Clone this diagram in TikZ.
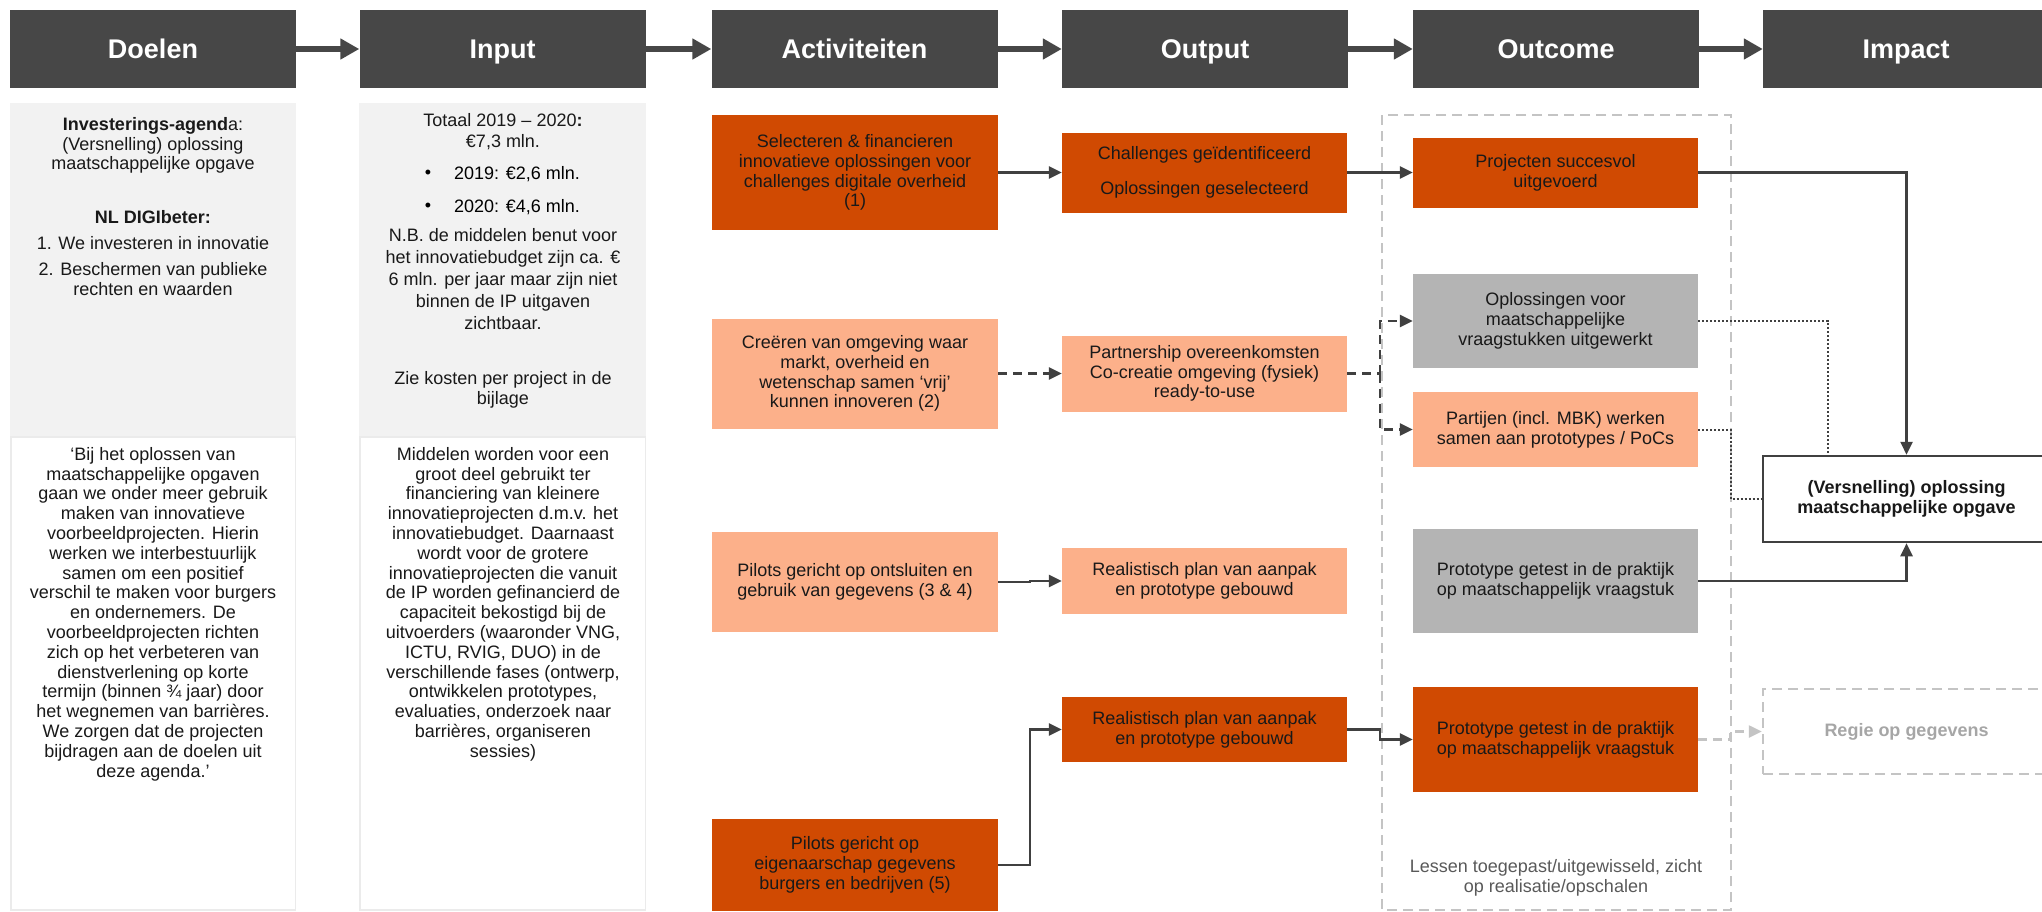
\documentclass[tikz,border=0pt]{standalone}
\usepackage{fontspec}
\setmainfont{Liberation Sans}
\usetikzlibrary{arrows.meta}
\definecolor{hdrgray}{HTML}{474747}
\definecolor{panelgray}{HTML}{F2F2F2}
\definecolor{pwcorange}{HTML}{D04A02}
\definecolor{lightorange}{HTML}{FCB08A}
\definecolor{midgray}{HTML}{B4B4B4}
\definecolor{linegray}{HTML}{404040}
\definecolor{dashgray}{HTML}{C4C4C4}

\begin{document}
\begin{tikzpicture}[x=1pt,y=-1pt,
    font=\fontsize{18}{19.8}\selectfont,
    hdr/.style={fill=hdrgray,text=white,minimum width=286pt,minimum height=78pt,inner sep=0pt,text height=19.3pt,text depth=0pt,font=\fontsize{27}{30}\selectfont\bfseries},
    stagebox/.style={minimum width=286pt,inner sep=0pt,align=center,text=black!90},
    darkbox/.style={stagebox,fill=pwcorange},
    lightbox/.style={stagebox,fill=lightorange},
    graybox/.style={stagebox,fill=midgray},
    txt/.style={inner sep=0pt,align=center,anchor=north,text=black!90},
    bigarrow/.style={draw=hdrgray,line width=6pt,-{Triangle[length=19pt,width=20pt]}},
    conn/.style={draw=linegray,line width=2.5pt,-{Triangle[length=13pt,width=12pt]}},
    dashconn/.style={draw=linegray,line width=2.5pt,dash pattern=on 9pt off 6pt},
    dotconn/.style={draw=linegray,line width=2pt,dotted},
    grouped/.style={draw=dashgray,line width=2.5pt,dash pattern=on 10pt off 6pt}]
    \fill[white] (0,0) rectangle (2042,911);
    \useasboundingbox (0,0) rectangle (2042,911);

    \node[hdr] (hdoel) at (153,49) {Doelen};
    \node[hdr] (hinput) at (502.5,49) {Input};
    \node[hdr] (hactiv) at (854.5,49) {Activiteiten};
    \node[hdr] (houtput) at (1205,49) {Output};
    \node[hdr] (houtcome) at (1556,49) {Outcome};
    \node[hdr] (himpact) at (1906,49) {Impact};
    \foreach \a/\b in {hdoel/hinput,hinput/hactiv,hactiv/houtput,houtput/houtcome,houtcome/himpact}
        \draw[bigarrow] (\a.east) -- (\b.west);

    \fill[panelgray] (10,103) rectangle (296,437);
    \fill[panelgray] (359,103) rectangle (646,437);
    \draw[black!8,line width=1.5pt] (10.75,437) rectangle (295.25,910);
    \draw[black!8,line width=1.5pt] (359.75,437) rectangle (645.25,910);

    \node[txt] (agenda) at (153,117) {\textbf{Investerings-agend}a:\\(Versnelling) oplossing\\maatschappelijke opgave};
    \node[txt] (digi) at (153,210) {\textbf{NL DIGIbeter:}\\[6pt]1. We investeren in innovatie\\[7pt]2. Beschermen van publieke\\rechten en waarden};
    \node[txt] (quote) at (153,447) {‘Bij het oplossen van\\maatschappelijke opgaven\\gaan we onder meer gebruik\\maken van innovatieve\\voorbeeldprojecten. Hierin\\werken we interbestuurlijk\\samen om een positief\\verschil te maken voor burgers\\en ondernemers. De\\voorbeeldprojecten richten\\zich op het verbeteren van\\dienstverlening op korte\\termijn (binnen ¾ jaar) door\\het wegnemen van barrières.\\We zorgen dat de projecten\\bijdragen aan de doelen uit\\deze agenda.’};

    \node[txt] (totaal) at (503,113) {Totaal 2019 – 2020\textbf{:}\\[1pt]€7,3 mln.};
    \node[inner sep=0pt] (bul1) at (428,174) {•};
    \node[inner sep=0pt,anchor=west] (jaar1) at (454,174) {2019: €2,6 mln.};
    \node[inner sep=0pt] (bul2) at (428,207) {•};
    \node[inner sep=0pt,anchor=west] (jaar2) at (454,207) {2020: €4,6 mln.};
    \node[txt,font=\fontsize{18}{22}\selectfont] (nb) at (503,228) {N.B. de middelen benut voor\\het innovatiebudget zijn ca. €\\6 mln. per jaar maar zijn niet\\binnen de IP uitgaven\\zichtbaar.};
    \node[txt] (kosten) at (503,371) {Zie kosten per project in de\\bijlage};
    \node[txt] (middelen) at (503,447) {Middelen worden voor een\\groot deel gebruikt ter\\financiering van kleinere\\innovatieprojecten d.m.v. het\\innovatiebudget. Daarnaast\\wordt voor de grotere\\innovatieprojecten die vanuit\\de IP worden gefinancierd de\\capaciteit bekostigd bij de\\uitvoerders (waaronder VNG,\\ICTU, RVIG, DUO) in de\\verschillende fases (ontwerp,\\ontwikkelen prototypes,\\evaluaties, onderzoek naar\\barrières, organiseren\\sessies)};

    \draw[grouped] (1382,115) rectangle (1731,910);
    \node[txt,text=black!65] (lessen) at (1556,859) {Lessen toegepast/uitgewisseld, zicht\\op realisatie/opschalen};

    \node[darkbox,minimum height=115pt] (act1) at (855,172.5) {Selecteren \& financieren\\innovatieve oplossingen voor\\challenges digitale overheid\\(1)};
    \node[lightbox,minimum height=110pt] (act2) at (855,373.5) {Creëren van omgeving waar\\markt, overheid en\\wetenschap samen ‘vrij’\\kunnen innoveren (2)};
    \node[lightbox,minimum height=100pt] (act3) at (855,582) {Pilots gericht op ontsluiten en\\gebruik van gegevens (3 \& 4)};
    \node[darkbox,minimum height=92pt] (act4) at (855,865) {Pilots gericht op\\eigenaarschap gegevens\\burgers en bedrijven (5)};

    \node[darkbox,minimum width=285pt,minimum height=80pt] (out1) at (1204.5,172.5) {Challenges geïdentificeerd\\[15pt]Oplossingen geselecteerd};
    \node[lightbox,minimum width=285pt,minimum height=76pt] (out2) at (1204.5,373.5) {Partnership overeenkomsten\\Co-creatie omgeving (fysiek)\\ready-to-use};
    \node[lightbox,minimum width=285pt,minimum height=66pt] (out3) at (1204.5,581) {Realistisch plan van aanpak\\en prototype gebouwd};
    \node[darkbox,minimum width=285pt,minimum height=65pt] (out4) at (1204.5,729.5) {Realistisch plan van aanpak\\en prototype gebouwd};

    \node[darkbox,minimum width=285pt,minimum height=70pt] (outc1) at (1555.5,172.5) {Projecten succesvol\\uitgevoerd};
    \node[graybox,minimum width=285pt,minimum height=94pt] (outc2) at (1555.5,321) {Oplossingen voor\\maatschappelijke\\vraagstukken uitgewerkt};
    \node[lightbox,minimum width=285pt,minimum height=75pt] (outc3) at (1555.5,429.5) {Partijen (incl. MBK) werken\\samen aan prototypes / PoCs};
    \node[graybox,minimum width=285pt,minimum height=104pt] (outc4) at (1555.5,581) {Prototype getest in de praktijk\\op maatschappelijk vraagstuk};
    \node[darkbox,minimum width=285pt,minimum height=105pt] (outc5) at (1555.5,739.5) {Prototype getest in de praktijk\\op maatschappelijk vraagstuk};

    \node[stagebox,draw=linegray,line width=2.5pt,fill=white,minimum width=287pt,minimum height=86pt,font=\fontsize{18}{19.8}\selectfont\bfseries] (impact) at (1906.5,499) {(Versnelling) oplossing\\maatschappelijke opgave};
    \node[stagebox,grouped,minimum width=287pt,minimum height=85pt,text=black!35,font=\fontsize{18}{19.8}\selectfont\bfseries] (regie) at (1906.5,731.5) {Regie op gegevens};

    \draw[conn] (act1.east) -- (out1.west);
    \draw[conn] (out1.east) -- (outc1.west);
    \draw[conn] (outc1.east) -| (impact.north);
    \draw[dashconn,-{Triangle[length=13pt,width=12pt]}] (act2.east) -- (out2.west);
    \coordinate (split) at (1380,373.5);
    \draw[dashconn] (out2.east) -- (split);
    \draw[dashconn,-{Triangle[length=13pt,width=12pt]}] (split) |- (outc2.west);
    \draw[dashconn,-{Triangle[length=13pt,width=12pt]}] (split) |- (outc3.west);
    \draw[conn] (act3.east) -- ++(32,0) |- (out3.west);
    \draw[conn] (act4.east) -- ++(32,0) |- (out4.west);
    \draw[conn] (out4.east) -- ++(33,0) |- (outc5.west);
    \draw[dotconn] (outc2.east) -| ([xshift=-78.5pt]impact.north);
    \draw[dotconn] (outc3.east) -- ++(33,0) |- (impact.west);
    \draw[conn] (outc4.east) -| (impact.south);
    \draw[dashconn,draw=dashgray,-{Triangle[length=13pt,width=12pt]}] (outc5.east) -- ++(32,0) |- (regie.west);
\end{tikzpicture}
\end{document}
